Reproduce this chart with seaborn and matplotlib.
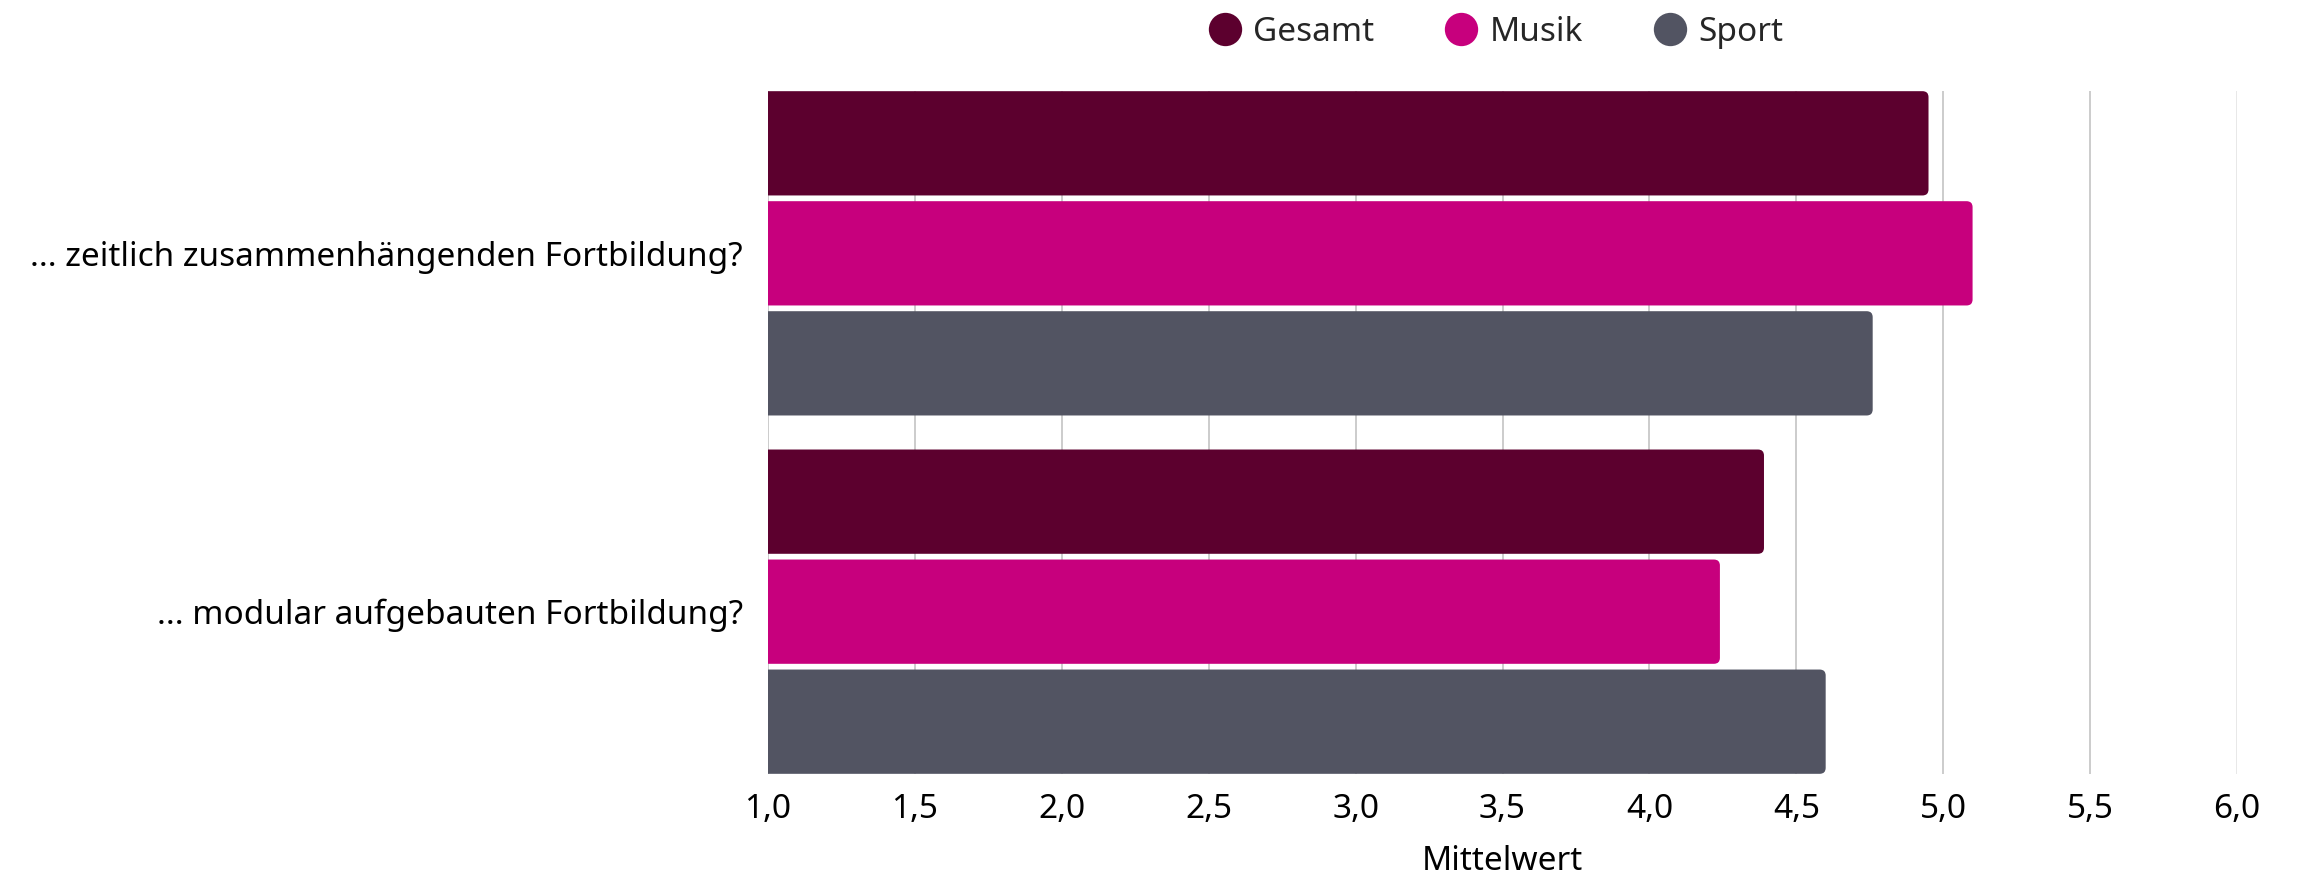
import matplotlib
matplotlib.use("Agg")
import matplotlib.pyplot as plt
from matplotlib.patches import FancyBboxPatch
from matplotlib.lines import Line2D
from matplotlib.ticker import FuncFormatter
import seaborn as sns
import pandas as pd

# ---- data ----
categories = ["... zeitlich zusammenhängenden Fortbildung?",
              "... modular aufgebauten Fortbildung?"]
groups = ["Gesamt", "Musik", "Sport"]
gesamt = [4.95, 4.39]
musik = [5.10, 4.24]
sport = [4.76, 4.60]
x_ticks = [1.0, 1.5, 2.0, 2.5, 3.0, 3.5, 4.0, 4.5, 5.0, 5.5, 6.0]
x_label = "Mittelwert"
colors = {"Gesamt": "#5C002E", "Musik": "#C7007D", "Sport": "#525462"}

rows = []
for g, vals in zip(groups, [gesamt, musik, sport]):
    for c, v in zip(categories, vals):
        rows.append({"Frage": c, "Gruppe": g, "Mittelwert": v})
df = pd.DataFrame(rows)

sns.set_theme(style="white")
plt.rcParams["font.family"] = ["Noto Sans", "DejaVu Sans"]

W, H, DPI = 2308, 882, 100
FS = 24
fig = plt.figure(figsize=(W / DPI, H / DPI), dpi=DPI)
ax = fig.add_axes([768 / W, 1 - 774 / H, (2237 - 768) / W, (774 - 91) / H])

sns.barplot(data=df, y="Frage", x="Mittelwert", hue="Gruppe", orient="h",
            palette=colors, hue_order=groups, order=categories,
            width=0.921, ax=ax, legend=False, saturation=1, zorder=2)

# reshape bars: small gaps + rounded ends
bar_h = 0.291
x_px_per_unit = (2237 - 768) / 5.0
y_px_per_unit = (774 - 91) / 1.906
r_px = 6
patches = list(ax.patches)
for p in patches:
    x0, y0 = p.get_x(), p.get_y()
    w, h = p.get_width(), p.get_height()
    yc = y0 + h / 2
    fc = p.get_facecolor()
    p.remove()
    fb = FancyBboxPatch((x0, yc - bar_h / 2), w, bar_h,
                        boxstyle=f"round,pad=0,rounding_size={r_px / x_px_per_unit}",
                        mutation_aspect=x_px_per_unit / y_px_per_unit,
                        facecolor=fc, edgecolor="none", zorder=2)
    ax.add_patch(fb)

ax.set_xlim(1.0, 6.0)
ax.set_ylim(1.453, -0.453)
ax.set_xticks(x_ticks)
ax.xaxis.set_major_formatter(FuncFormatter(lambda v, pos: f"{v:.1f}".replace(".", ",")))

# gridlines
for t in x_ticks:
    ax.axvline(t, color="#E6E6E6" if t == 6.0 else "#C8C8C8", lw=1.3, zorder=0)

for s in ax.spines.values():
    s.set_visible(False)
ax.tick_params(axis="x", length=0, pad=14, labelsize=FS, colors="black")
ax.tick_params(axis="y", length=0, pad=18, labelsize=FS, colors="black")
ax.set_ylabel("")
ax.set_xlabel(x_label, fontsize=FS, labelpad=13, color="black")

handles = [Line2D([0], [0], marker="o", linestyle="none", markersize=24,
                  markerfacecolor=colors[g], markeredgecolor="none") for g in groups]
fig.legend(handles, groups, loc="center", bbox_to_anchor=(0.648, 0.963), ncol=3,
           frameon=False, fontsize=FS, handletextpad=0.35, columnspacing=2.1,
           handlelength=1.0)

fig.savefig("out.png", dpi=DPI, facecolor="white")
